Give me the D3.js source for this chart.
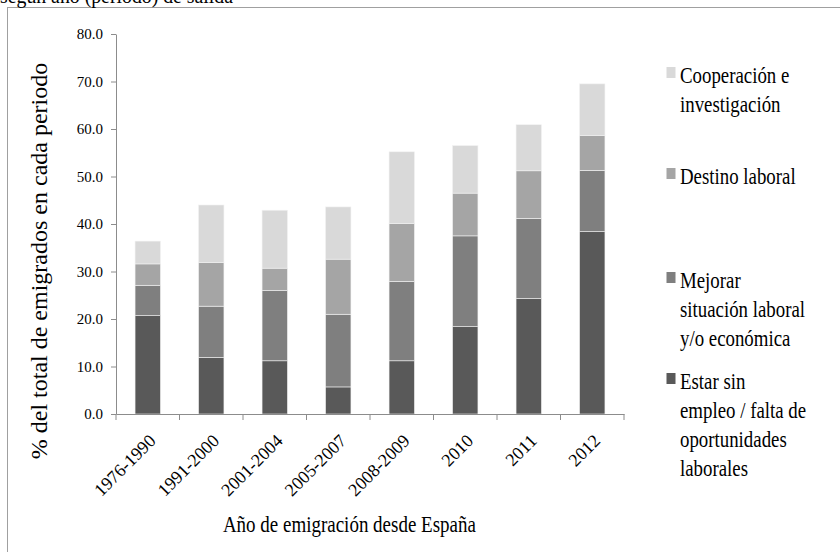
<!DOCTYPE html>
<html>
<head>
<meta charset="utf-8">
<script src="https://cdn.jsdelivr.net/npm/d3@7"></script>
<style>
  html, body { margin: 0; padding: 0; background: #fff; }
  svg { display: block; }
  svg text { font-family: "Liberation Serif", "Times New Roman", Tinos, "DejaVu Serif", serif !important; fill: #000; }
</style>
</head>
<body>
<svg id="chart" width="840" height="552" font-family="Liberation Serif, serif"></svg>
<script>
// ---- data ----
const categories = ["1976-1990", "1991-2000", "2001-2004", "2005-2007", "2008-2009", "2010", "2011", "2012"];
const estarSinEmpleo = [20.7, 11.9, 11.2, 5.7, 11.2, 18.4, 24.3, 38.4];
const mejorarSituacion = [6.4, 10.8, 14.8, 15.3, 16.7, 19.1, 16.9, 12.9];
const destinoLaboral = [4.5, 9.2, 4.7, 11.6, 12.2, 9.0, 10.0, 7.3];
const cooperacion = [4.8, 12.1, 12.2, 11.0, 15.1, 10.0, 9.7, 10.9];
const yTicks = [0, 10, 20, 30, 40, 50, 60, 70, 80];
const seriesNames = ["Estar sin empleo / falta de oportunidades laborales",
  "Mejorar situación laboral y/o económica", "Destino laboral", "Cooperación e investigación"];
const seriesColors = ["#595959", "#7f7f7f", "#a5a5a5", "#d9d9d9"];
const legendLines = [
  ["Estar sin", "empleo / falta de", "oportunidades", "laborales"],
  ["Mejorar", "situación laboral", "y/o económica"],
  ["Destino laboral"],
  ["Cooperación e", "investigación"]
];
const subtitle = "según año (periodo) de salida";
const yTitle = "% del total de emigrados en cada periodo";
const xTitle = "Año de emigración desde España";

(function () {
const FONT = "Liberation Serif";
// ---- build table ----
const keys = ["estar", "mejorar", "destino", "coop"];
const table = categories.map((c, i) => ({
  cat: c, estar: estarSinEmpleo[i], mejorar: mejorarSituacion[i],
  destino: destinoLaboral[i], coop: cooperacion[i]
}));
const stacked = d3.stack().keys(keys)(table);

const svg = d3.select("#chart");

// frame
svg.append("rect").attr("x", 7.5).attr("y", 7.5).attr("width", 860).attr("height", 580)
  .attr("fill", "none").attr("stroke", "#a0a0a0").attr("stroke-width", 1);

// subtitle (cut at top, as in the source)
svg.append("text").attr("x", 0).attr("y", 3).attr("font-size", 21).attr("font-family", FONT)
  .attr("textLength", 233).attr("lengthAdjust", "spacingAndGlyphs").text(subtitle);

const pl = 116, pr = 624, pt = 34, pb = 414;
const x = d3.scaleBand().domain(categories).range([pl, pr]).paddingInner(0.6).paddingOuter(0.3);
const y = d3.scaleLinear().domain([0, 80]).range([pb, pt]);

// bars
svg.append("g").selectAll("g").data(stacked).join("g")
  .attr("fill", (d, i) => seriesColors[i])
  .selectAll("rect").data(d => d).join("rect")
  .attr("x", d => x(d.data.cat))
  .attr("width", x.bandwidth())
  .attr("y", d => y(d[1]))
  .attr("height", d => y(d[0]) - y(d[1]))
  .attr("stroke", "#f2f2f2").attr("stroke-width", 0.6);

// y axis
const yAxis = svg.append("g").attr("transform", `translate(${pl},0)`)
  .call(d3.axisLeft(y).tickValues(yTicks).tickFormat(d3.format(".1f")).tickSize(5).tickPadding(8).tickSizeOuter(0));
yAxis.attr("font-family", FONT).attr("font-size", 15);
yAxis.selectAll("path, line").attr("stroke", "#8c8c8c");
yAxis.selectAll("text").attr("font-size", 15).attr("font-family", FONT);

// x axis baseline + boundary ticks
const xAxis = svg.append("g").attr("transform", `translate(0,${pb})`)
  .call(d3.axisBottom(x).tickSize(0).tickSizeOuter(0).tickFormat(""));
xAxis.select("path").attr("stroke", "#8c8c8c");
const boundaries = categories.map(c => x(c) - x.step() * 0.3).concat([pr]);
svg.append("g").selectAll("line").data(boundaries).join("line")
  .attr("x1", d => d).attr("x2", d => d).attr("y1", pb).attr("y2", pb + 6)
  .attr("stroke", "#8c8c8c");

// x tick labels rotated
svg.append("g").selectAll("text").data(categories).join("text")
  .attr("transform", d => `translate(${x(d) + x.bandwidth() / 2 + 9},${pb + 28}) rotate(-45)`)
  .attr("text-anchor", "end").attr("font-size", 18).attr("font-family", FONT).text(d => d);

// axis titles
svg.append("text").attr("transform", `translate(47,261) rotate(-90)`)
  .attr("text-anchor", "middle").attr("font-size", 24).attr("font-family", FONT).text(yTitle);
svg.append("text").attr("x", 222.9).attr("y", 532).attr("font-size", 23).attr("font-family", FONT)
  .attr("textLength", 253).attr("lengthAdjust", "spacingAndGlyphs").text(xTitle);

// legend
const legendBaselines = [389, 288, 184, 83];
const lg = svg.append("g");
legendLines.forEach((lines, i) => {
  const b = legendBaselines[i];
  lg.append("rect").attr("x", 666.5).attr("y", b - 16).attr("width", 9).attr("height", 11)
    .attr("fill", seriesColors[i]);
  const t = lg.append("text").attr("transform", `translate(680,${b}) scale(0.82,1)`)
    .attr("font-size", 23).attr("font-family", FONT);
  lines.forEach((ln, j) => {
    t.append("tspan").attr("x", 0).attr("y", j * 29).text(ln);
  });
});
})();
</script>
</body>
</html>
